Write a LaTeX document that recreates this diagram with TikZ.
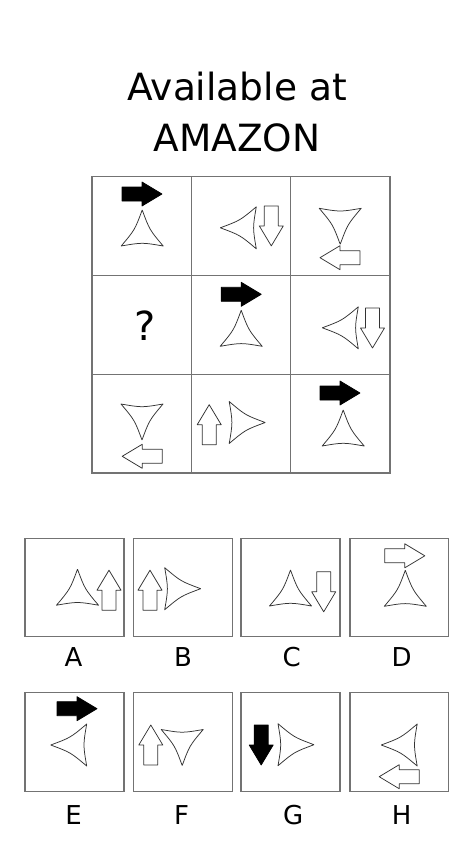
\documentclass[tikz,border=0pt]{standalone}
\usepackage{fontspec}
\setmainfont{DejaVu Sans}
\begin{document}
\begin{tikzpicture}[x=1pt,y=-1pt,
  boxline/.style={draw=black!55,line width=1.1pt},
  shapeline/.style={draw=black!80,line width=0.75pt,line join=round},
  tri/.pic={\draw[shapeline,fill=white] (0,-18) .. controls (-7.35,1.8) .. (-21,18) .. controls (0,14.4) .. (21,18) .. controls (7.35,1.8) .. (0,-18);},
  arr/.pic={\draw[shapeline,#1] (-20,-7) -- (0,-7) -- (0,-12) -- (20,0) -- (0,12) -- (0,7) -- (-20,7) -- cycle;},
  whitearr/.style={fill=white},
  blackarr/.style={fill=black,draw=black},
  title/.style={font=\fontsize{37.5}{40}\selectfont,anchor=base,inner sep=0pt},
  lbl/.style={font=\fontsize{26}{28}\selectfont,anchor=base,inner sep=0pt}]
\useasboundingbox (0,0) rectangle (474,841);
\fill[white] (0,0) rectangle (474,841);

\node[title] (t1) at (237,100) {Available at};
\node[title] (t2) at (237,151.7) {AMAZON};

% grid
\draw[boxline] (92,176.5) rectangle (390,473);
\draw[boxline] (191.5,176.5) -- (191.5,473);
\draw[boxline] (290.8,176.5) -- (290.8,473);
\draw[boxline] (92,275.2) -- (390,275.2);
\draw[boxline] (92,374.2) -- (390,374.2);

% row 1
\pic at (142,194) {arr=blackarr};
\pic at (142.2,228) {tri};
\pic[rotate=90] at (238.3,227.8) {tri};
\pic[rotate=-90] at (271.3,225.9) {arr=whitearr};
\pic[rotate=180] at (340.2,226.3) {tri};
\pic[rotate=180] at (340,257.7) {arr=whitearr};
% row 2
\node[font=\fontsize{40}{42}\selectfont,anchor=base,inner sep=0pt] (q) at (145,340.7) {?};
\pic at (241.2,294.3) {arr=blackarr};
\pic at (241.2,328.3) {tri};
\pic[rotate=90] at (340.3,327.8) {tri};
\pic[rotate=-90] at (372.5,328) {arr=whitearr};
% row 3
\pic[rotate=180] at (142,422) {tri};
\pic[rotate=180] at (142.2,456.3) {arr=whitearr};
\pic[rotate=90] at (209.2,424.7) {arr=whitearr};
\pic[rotate=-90] at (247.2,422.5) {tri};
\pic at (340,393) {arr=blackarr};
\pic at (343.2,428) {tri};

% options boxes
\draw[boxline] (25,538.3) rectangle (124,636.7);
\draw[boxline] (133.3,538.3) rectangle (232.3,636.7);
\draw[boxline] (241,538.3) rectangle (340,636.7);
\draw[boxline] (350,538.3) rectangle (448.3,636.7);
\draw[boxline] (25,692.3) rectangle (124,791.7);
\draw[boxline] (133.3,692.3) rectangle (232.3,791.7);
\draw[boxline] (241,692.3) rectangle (340,791.7);
\draw[boxline] (350,692.3) rectangle (448.3,791.7);

\node[lbl] (la) at (73.5,666.7) {A};
\node[lbl] (lb) at (183,666.7) {B};
\node[lbl] (lc) at (291.7,666.7) {C};
\node[lbl] (ld) at (401.7,666.7) {D};
\node[lbl] (le) at (73.5,824.3) {E};
\node[lbl] (lf) at (181.7,824.3) {F};
\node[lbl] (lg) at (293.3,824.3) {G};
\node[lbl] (lh) at (401.7,824.3) {H};

% A
\pic at (77.5,587.2) {tri};
\pic[rotate=90] at (109,590.2) {arr=whitearr};
% B
\pic[rotate=90] at (150,590.2) {arr=whitearr};
\pic[rotate=-90] at (182.7,588.7) {tri};
% C
\pic at (290.5,588) {tri};
\pic[rotate=-90] at (323.7,591.8) {arr=whitearr};
% D
\pic at (404.8,555.8) {arr=whitearr};
\pic at (405.3,588.3) {tri};
% E
\pic at (77,708.7) {arr=blackarr};
\pic[rotate=90] at (68.7,745) {tri};
% F
\pic[rotate=90] at (150.8,745) {arr=whitearr};
\pic[rotate=180] at (182.2,747.5) {tri};
% G
\pic[rotate=-90] at (261.2,745) {arr=blackarr};
\pic[rotate=-90] at (296,744.7) {tri};
% H
\pic[rotate=90] at (399.2,745) {tri};
\pic[rotate=180] at (399.2,776.7) {arr=whitearr};
\end{tikzpicture}
\end{document}
